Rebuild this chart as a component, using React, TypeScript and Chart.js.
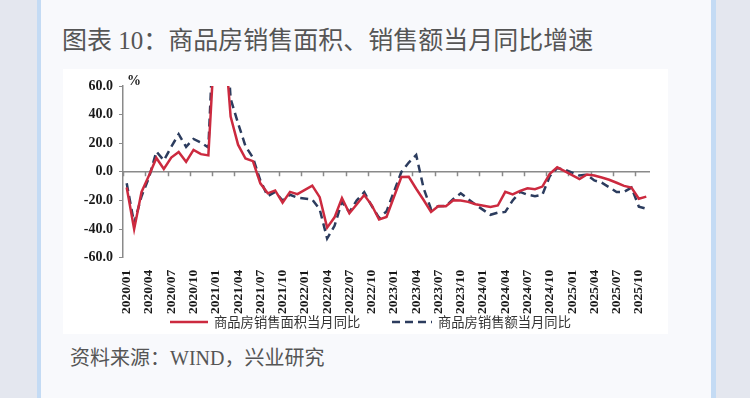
import React, { useEffect, useRef } from "react";
import { Chart, registerables } from "chart.js";

Chart.register(...registerables);

const categories: string[] = [
  "2020/01", "2020/02", "2020/03", "2020/04", "2020/05", "2020/06", "2020/07", "2020/08", "2020/09", "2020/10", "2020/11", "2020/12",
  "2021/01", "2021/02", "2021/03", "2021/04", "2021/05", "2021/06", "2021/07", "2021/08", "2021/09", "2021/10", "2021/11", "2021/12",
  "2022/01", "2022/02", "2022/03", "2022/04", "2022/05", "2022/06", "2022/07", "2022/08", "2022/09", "2022/10", "2022/11", "2022/12",
  "2023/01", "2023/02", "2023/03", "2023/04", "2023/05", "2023/06", "2023/07", "2023/08", "2023/09", "2023/10", "2023/11", "2023/12",
  "2024/01", "2024/02", "2024/03", "2024/04", "2024/05", "2024/06", "2024/07", "2024/08", "2024/09", "2024/10", "2024/11", "2024/12",
  "2025/01", "2025/02", "2025/03", "2025/04", "2025/05", "2025/06", "2025/07", "2025/08", "2025/09", "2025/10", "2025/11",
];

// 商品房销售面积当月同比 (%)
const salesAreaYoY: (number | null)[] = [
  -11, -39.9, -14, -2.5, 9.7, 2, 10, 13.8, 7, 15.4, 12.4, 11.5,
  104.9, 104.9, 38.6, 19, 9.3, 7.5, -8, -15, -13, -21.5, -14, -15.6,
  null, -9.6, -17.7, -39, -31.8, -18.3, -28.9, -22.6, -16.2, -23.2, -33.3, -31.5,
  null, -3.6, -3.5, -11.8, -19.7, -28, -23.8, -24, -19.8, -20, -21, -22.6,
  null, -24.5, -23.5, -14, -15.8, -13.3, -11.5, -12.1, -10.3, -1.4, 3.2, 0.5,
  null, -5.1, -1.8, -2.5, -4, -5.5, -7.6, -9.8, -11, -18.8, -17.3,
];

// 商品房销售额当月同比 (%)
const salesValueYoY: (number | null)[] = [
  -8, -35.9, -17, -4, 14.2, 8, 17.5, 26.3, 17.5, 23, 20.5, 17,
  133.4, 133.4, 51, 34, 18, 10, -6, -17, -14, -20, -16, -18,
  null, -19.3, -26.2, -46.6, -37.7, -20.8, -28.2, -19.9, -14.2, -23.7, -32.2, -27.7,
  null, -0.1, 6.5, 11.8, -11.4, -26, -24, -23.8, -19, -15, -19, -23,
  null, -30, -28.5, -28, -20, -14, -16, -17, -16, -3, 2.6, 1.5,
  null, -2.6, -2, -6, -7.5, -10.8, -14.1, -14, -11, -24.3, -25.8,
];

const seriesNames: string[] = ["商品房销售面积当月同比", "商品房销售额当月同比"];
const yTicks: number[] = [-60, -40, -20, 0, 20, 40, 60];
const titleText = "图表 10：商品房销售面积、销售额当月同比增速";
const sourceText = "资料来源：WIND，兴业研究";
const unitText = "%";

const RED = "#cc2a3f";
const NAVY = "#2c3c5e";
const AXIS = "#8a8a8a";
const SERIF = '"Liberation Serif", "Times New Roman", serif';
const CJK = '"Noto Sans CJK SC", sans-serif';

const axisPlugin = {
  id: "zeroAxis",
  beforeDatasetsDraw(chart: any) {
    const { ctx, chartArea, scales } = chart;
    const x = scales.x;
    const y = scales.y;
    const y0 = y.getPixelForValue(0);
    const step = x.getPixelForValue(1) - x.getPixelForValue(0);
    ctx.save();
    ctx.strokeStyle = AXIS;
    ctx.lineWidth = 1.5;
    ctx.beginPath();
    ctx.moveTo(chartArea.left, y0);
    ctx.lineTo(chartArea.right, y0);
    for (let i = 0; i < categories.length; i += 3) {
      const px = Math.round(x.getPixelForValue(i) - step / 2) + 0.5;
      ctx.moveTo(px, y0);
      ctx.lineTo(px, y0 + 4.5);
    }
    ctx.stroke();
    ctx.restore();
  },
  afterDraw(chart: any) {
    const { ctx, chartArea } = chart;
    ctx.save();
    ctx.fillStyle = "#1a1a1a";
    ctx.font = `bold 14px ${SERIF}`;
    ctx.textAlign = "left";
    ctx.textBaseline = "middle";
    ctx.fillText(unitText, chartArea.left + 4, chartArea.top - 5);
    ctx.restore();
  },
};

function LineChart() {
  const ref = useRef<HTMLCanvasElement | null>(null);
  useEffect(() => {
    if (!ref.current) return;
    const chart = new Chart(ref.current, {
      type: "line",
      data: {
        labels: categories,
        datasets: [
          {
            label: seriesNames[0],
            data: salesAreaYoY,
            borderColor: RED,
            backgroundColor: RED,
            borderWidth: 2.5,
            pointRadius: 0,
            tension: 0,
            spanGaps: true,
            order: 0,
          },
          {
            label: seriesNames[1],
            data: salesValueYoY,
            borderColor: NAVY,
            backgroundColor: NAVY,
            borderWidth: 2.5,
            borderDash: [8, 5],
            pointRadius: 0,
            tension: 0,
            spanGaps: true,
            order: 1,
          },
        ],
      },
      options: {
        animation: false,
        responsive: false,
        maintainAspectRatio: false,
        layout: { padding: { top: 17, right: 18, left: 0, bottom: 0 } },
        plugins: {
          legend: { display: false },
          tooltip: { enabled: false },
        },
        scales: {
          x: {
            type: "category",
            offset: true,
            grid: { display: false },
            border: { display: false },
            ticks: {
              autoSkip: false,
              minRotation: 90,
              maxRotation: 90,
              padding: 4,
              color: "#1a1a1a",
              font: { family: SERIF, size: 13.5, weight: "bold" },
              callback: (_v: any, i: number) => (i % 3 === 0 ? categories[i] : ""),
            },
            afterFit: (s: any) => {
              s.height = 81.3;
            },
          },
          y: {
            min: yTicks[0],
            max: yTicks[yTicks.length - 1],
            afterBuildTicks: (s: any) => {
              s.ticks = yTicks.map((v) => ({ value: v }));
            },
            ticks: {
              padding: 6,
              color: "#1a1a1a",
              font: { family: SERIF, size: 14, weight: "bold" },
              callback: (v: any) => Number(v).toFixed(1),
            },
            grid: {
              drawOnChartArea: false,
              drawTicks: true,
              tickLength: 4,
              color: AXIS,
              lineWidth: 1,
            },
            border: { display: true, color: AXIS, width: 1.5 },
            afterFit: (s: any) => {
              s.width = 60;
            },
          },
        },
      },
      plugins: [axisPlugin],
    });
    return () => chart.destroy();
  }, []);
  return (
    <canvas
      ref={ref}
      width={605}
      height={270}
      style={{ position: "absolute", left: 63, top: 69, width: 605, height: 270 }}
    />
  );
}

function LegendItem({ left, lineWidth, color, dash, text }: { left: number; lineWidth: number; color: string; dash?: string; text: string }) {
  return (
    <div style={{ position: "absolute", left, top: 313, height: 18, display: "flex", alignItems: "center", whiteSpace: "nowrap" }}>
      <svg width={lineWidth} height={6} style={{ display: "block" }}>
        <line x1={0} y1={3} x2={lineWidth} y2={3} stroke={color} strokeWidth={2.5} strokeDasharray={dash} />
      </svg>
      <span style={{ marginLeft: 6, fontFamily: CJK, fontSize: 13.3, lineHeight: "18px", color: "#333" }}>{text}</span>
    </div>
  );
}

export default function App() {
  return (
    <div
      style={{
        position: "absolute",
        left: 0,
        top: 0,
        width: 750,
        height: 398,
        background: "#e4e7ef",
        overflow: "hidden",
      }}
    >
      <div style={{ position: "absolute", left: 37, top: 0, width: 679, height: 398, background: "#c4dbf4" }} />
      <div style={{ position: "absolute", left: 41, top: 0, width: 670, height: 398, background: "#f8f9fc" }} />
      <div
        style={{
          position: "absolute",
          left: 62,
          top: 28,
          fontSize: 25,
          lineHeight: "26px",
          fontFamily: `"Liberation Serif", "Noto Sans CJK SC", serif`,
          color: "#555",
          whiteSpace: "nowrap",
        }}
      >
        {titleText}
      </div>
      <div style={{ position: "absolute", left: 63, top: 69, width: 605, height: 265, background: "#ffffff" }} />
      <LineChart />
      <LegendItem left={170} lineWidth={38} color={RED} text={seriesNames[0]} />
      <LegendItem left={392} lineWidth={40} color={NAVY} dash="8 5" text={seriesNames[1]} />
      <div
        style={{
          position: "absolute",
          left: 70,
          top: 348,
          fontSize: 20,
          lineHeight: "20px",
          fontFamily: `"Liberation Serif", "Noto Sans CJK SC", serif`,
          color: "#555",
          whiteSpace: "nowrap",
        }}
      >
        {sourceText}
      </div>
    </div>
  );
}
